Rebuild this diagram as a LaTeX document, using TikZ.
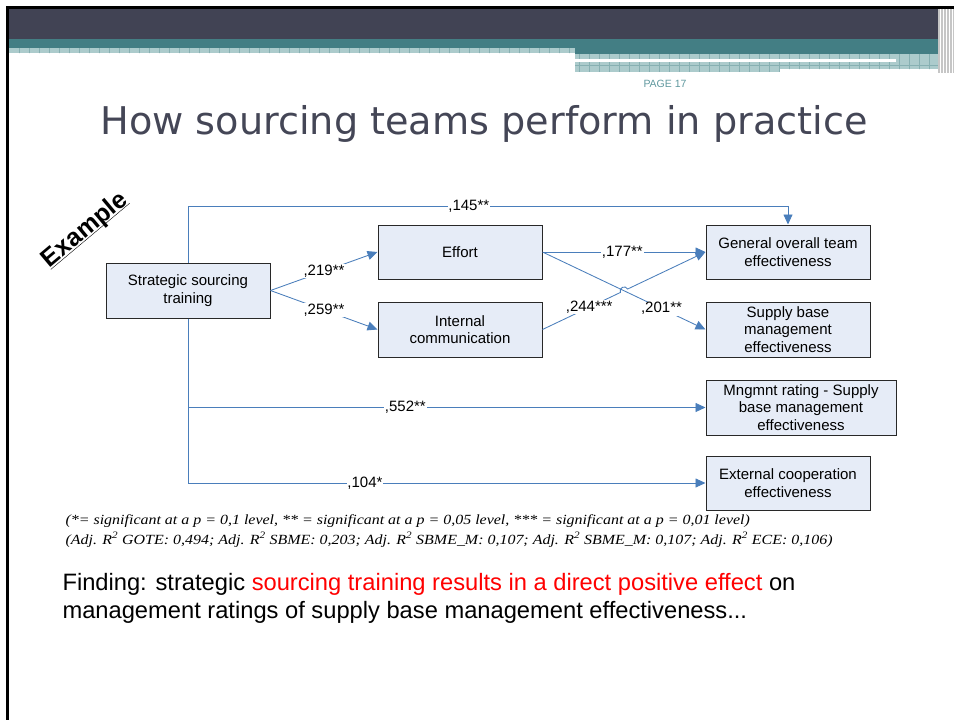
\documentclass[tikz,border=0pt]{standalone}
\usepackage{fontspec}
\setmainfont{Liberation Sans}
\newfontfamily\headfont{DejaVu Sans}
\newfontfamily\notefont[FakeStretch=1.14]{Liberation Serif}
\usetikzlibrary{arrows.meta, positioning, calc}

\definecolor{bandgray}{RGB}{65,67,84}
\definecolor{bandteal}{RGB}{67,126,132}
\definecolor{checkfill}{RGB}{172,203,204}
\definecolor{checkline}{RGB}{135,176,178}
\definecolor{pagecol}{RGB}{95,152,158}
\definecolor{titlegray}{RGB}{68,70,86}
\definecolor{boxfill}{RGB}{230,236,247}
\definecolor{boxedge}{RGB}{40,40,40}
\definecolor{linkblue}{RGB}{74,126,187}
\definecolor{findred}{RGB}{255,0,0}

\begin{document}
\begin{tikzpicture}[
		x=1pt, y=-1pt,
		% boxes of the path model
		block/.style = {draw=boxedge, fill=boxfill, line width=1pt, minimum width=164pt, minimum height=55pt, align=center, inner sep=1pt, font=\fontsize{15}{17.5}\selectfont},
		% paths with their coefficients
		link/.style = {draw=linkblue, line width=0.85pt, -{Triangle[length=10pt, width=9pt]}},
		coef/.style = {fill=white, inner sep=0.8pt, font=\fontsize{15}{15}\selectfont},
		node distance=22pt and 163pt
		]
		\useasboundingbox (0,0) rectangle (954,720);
		
		% --- slide header ---
		\fill[bandgray] (9,8) rectangle (938,39);
		\fill[bandteal] (9,39) rectangle (938,48);
		\fill[bandteal] (575,48) rectangle (938,54);
		\fill[checkfill] (9,48) rectangle (575,53);
		\fill[checkfill] (575,54) rectangle (938,69);
		\fill[checkfill] (575,69) rectangle (780,72);
		\begin{scope}
			\clip (9,48) rectangle (575,53) (575,54) rectangle (938,69) (575,69) rectangle (780,72);
			\foreach \x in {19,29,...,939}
				\draw[checkline, line width=0.8pt] (\x,48) -- (\x,72);
			\draw[checkline, line width=0.8pt] (575,65) -- (938,65);
		\end{scope}
		\fill[white] (575,59) rectangle (896,62);
		\fill[gray!45] (938,6) rectangle (954,73);
		\foreach \x in {940.5,943.5,...,953}
			\draw[white, line width=0.9pt] (\x,6) -- (\x,73);
		\draw[line width=3pt] (7.5,720) -- (7.5,7.5) -- (954,7.5);
		
		\node[anchor=base, text=pagecol, font=\fontsize{10.5}{10.5}\selectfont] (page) at (665,87) {PAGE 17};
		\node[anchor=base, text=titlegray, font=\headfont\fontsize{38.2}{38.2}\selectfont] (title) at (484,134) {How sourcing teams perform in practice};
		\node[rotate=40, font=\bfseries\fontsize{25}{25}\selectfont] (tag) at (90,236) {\underline{\smash{Example}}};
		
		% --- model ---
		\node[block] (ssl) at (188,290.5) {Strategic sourcing\\training};
		\node[block, minimum height=54pt] (effort) at (460,252) {Effort};
		\node[block, below=22pt of effort] (intcom) {Internal\\communication};
		\node[block, minimum height=54pt, right=163pt of effort] (gote) {General overall team\\effectiveness};
		\node[block, right=163pt of intcom] (sbm) {Supply base\\management\\effectiveness};
		\node[block, minimum width=190pt, below=22pt of sbm.south west, anchor=north west] (mng) {Mngmnt rating - Supply\\base management\\effectiveness};
		\node[block, minimum height=54pt, below=20pt of mng.south west, anchor=north west] (ext) {External cooperation\\effectiveness};
		
		\draw[link] (ssl.north) |- node[coef, pos=0.734] {,145**} ($(gote.north)+(0,-18)$) -- (gote.north);
		\draw[link] (ssl.east) -- node[coef] {,219**} (effort.west);
		\draw[link] (ssl.east) -- node[coef] {,259**} (intcom.west);
		\draw[link] (effort.east) -- node[coef, pos=0.49] {,177**} (gote.west);
		\draw[link] (effort.east) -- node[coef, pos=0.73] {,201**} (sbm.west);
		% hop where the two cross paths meet
		\coordinate (hop) at ($(intcom.east)!0.5!(gote.west)$);
		\coordinate (hopin) at ($(hop)!4pt!(intcom.east)$);
		\coordinate (hopout) at ($(hop)!4pt!(gote.west)$);
		\draw[link] (intcom.east) -- node[coef, pos=0.6] {,244***} (hopin)
			.. controls ($(hopin)!5pt!90:(hopout)$) and ($(hopout)!5pt!-90:(hopin)$) .. (hopout) -- (gote.west);
		\draw[link] (ssl.south) |- node[coef, pos=0.71] {,552**} (mng.west);
		\draw[link] (ssl.south) |- node[coef, pos=0.671] {,104*} (ext.west);
		
		% --- notes ---
		\node[anchor=base west, font=\notefont\itshape\fontsize{14}{14}\selectfont] (note1) at (62,524) {(*= significant at a p = 0,1 level, ** = significant at a p = 0,05 level, *** = significant at a p = 0,01 level)};
		\node[anchor=base west, font=\notefont\itshape\fontsize{14}{14}\selectfont] (note2) at (62,544) {(Adj. R\textsuperscript{2} GOTE: 0,494; Adj. R\textsuperscript{2} SBME: 0,203; Adj. R\textsuperscript{2} SBME\_M: 0,107; Adj. R\textsuperscript{2} SBME\_M: 0,107; Adj. R\textsuperscript{2} ECE: 0,106)};
		\node[anchor=base west, font=\fontsize{23.7}{28}\selectfont] (find1) at (59,590) {Finding: strategic \textcolor{findred}{sourcing training results in a direct positive effect} on};
		\node[anchor=base west, font=\fontsize{23.7}{28}\selectfont] (find2) at (59,618) {management ratings of supply base management effectiveness...};
	\end{tikzpicture}
\end{document}
